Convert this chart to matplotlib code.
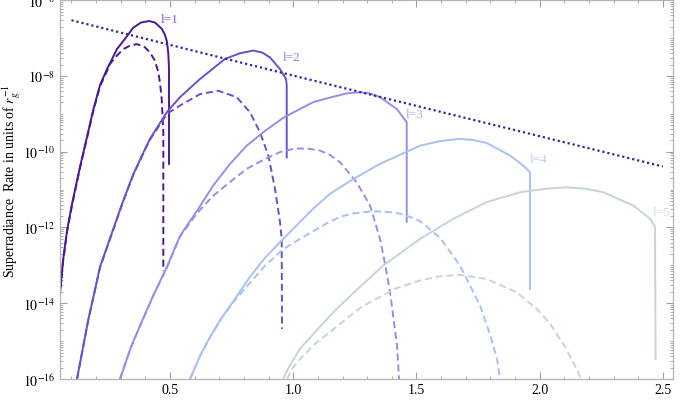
import numpy as np
import matplotlib
matplotlib.use("Agg")
import matplotlib.pyplot as plt
from matplotlib.ticker import FixedLocator, NullFormatter

plt.rcParams['font.family'] = ['Liberation Serif', 'DejaVu Serif']
plt.rcParams['mathtext.fontset'] = 'stix'

# ---- data: x = alpha (mu*M), values = log10(rate in units of 1/r_g) ----
l1_solid_x = [0.052, 0.0657, 0.0820, 0.1023, 0.1347, 0.1631, 0.1875, 0.2159, 0.2443, 0.2849, 0.3255, 0.3498,
              0.3823, 0.4148, 0.4391, 0.4675, 0.4797, 0.4878, 0.4931, 0.4959, 0.4959]
l1_solid_y = [-13.85, -12.88, -12.09, -11.38, -10.40, -9.61, -8.92, -8.24, -7.82, -7.29, -6.95, -6.73,
              -6.59, -6.55, -6.59, -6.76, -6.92, -7.10, -7.42, -7.82, -10.32]
l1_dash_x = [0.052, 0.0657, 0.0820, 0.1023, 0.1347, 0.1631, 0.1875, 0.2159, 0.2443, 0.2565, 0.2849, 0.3105,
             0.3377, 0.3649, 0.3945, 0.4188, 0.4391, 0.4525, 0.4594, 0.4663, 0.4728, 0.4728, 0.4728]
l1_dash_y = [-13.88, -12.91, -12.12, -11.41, -10.43, -9.64, -8.95, -8.27, -7.87, -7.68, -7.46, -7.29,
             -7.20, -7.16, -7.22, -7.38, -7.60, -7.90, -8.19, -8.61, -9.49, -10.32, -13.15]

l2_solid_x = [0.1226, 0.1672, 0.2159, 0.3052, 0.3498, 0.3985, 0.4188, 0.4878, 0.5406, 0.6218, 0.7232, 0.7841,
              0.8381, 0.8734, 0.9058, 0.9464, 0.9708, 0.9736, 0.9736]
l2_solid_y = [-16.0, -14.47, -13.04, -11.38, -10.61, -9.93, -9.66, -8.95, -8.56, -8.08, -7.55, -7.40,
              -7.33, -7.38, -7.51, -7.82, -8.08, -8.25, -10.15]
l2_dash_x = [0.1226, 0.1672, 0.2159, 0.3052, 0.3498, 0.3985, 0.4188, 0.4878, 0.5406, 0.6218, 0.6960, 0.7707,
             0.8247, 0.8653, 0.8990, 0.9261, 0.9464, 0.9533, 0.9545]
l2_dash_y = [-16.0, -14.48, -13.06, -11.40, -10.63, -9.95, -9.68, -9.00, -8.78, -8.48, -8.39, -8.56,
             -8.96, -9.49, -10.10, -10.98, -11.86, -12.30, -14.68]

l3_solid_x = [0.2971, 0.3417, 0.3864, 0.4351, 0.4878, 0.5406, 0.6096, 0.6757, 0.7435, 0.8113, 0.8856, 0.9586,
              1.0276, 1.0816, 1.1494, 1.2171, 1.2711, 1.3100, 1.3523, 1.4201, 1.4606, 1.4606]
l3_solid_y = [-16.0, -15.15, -14.47, -13.75, -13.04, -12.22, -11.56, -10.89, -10.32, -9.84, -9.45, -9.11,
              -8.87, -8.69, -8.57, -8.46, -8.43, -8.46, -8.56, -8.87, -9.22, -11.85]
l3_dash_x = [0.2971, 0.3417, 0.3864, 0.4351, 0.4878, 0.5406, 0.6096, 0.6757, 0.7435, 0.8113, 0.8856, 0.9464,
             0.9900, 1.0166, 1.0600, 1.1088, 1.1500, 1.1907, 1.2577, 1.3117, 1.3523, 1.3726, 1.3929, 1.4213, 1.4294]
l3_dash_y = [-16.0, -15.16, -14.48, -13.76, -13.05, -12.24, -11.62, -11.16, -10.80, -10.45, -10.19, -10.01,
             -9.94, -9.915, -9.92, -9.97, -10.09, -10.28, -10.81, -11.42, -12.30, -12.96, -13.70, -15.12, -16.0]

l4_solid_x = [0.5812, 0.6218, 0.6623, 0.7070, 0.7557, 0.8247, 0.8856, 0.9598, 1.0816, 1.1494, 1.2439, 1.3523,
              1.5146, 1.5958, 1.6769, 1.7300, 1.7853, 1.8799, 1.9339, 1.9610, 1.9610]
l4_solid_y = [-16.0, -15.39, -14.89, -14.41, -13.96, -13.30, -12.80, -12.30, -11.50, -11.11, -10.72, -10.32,
              -9.84, -9.72, -9.66, -9.69, -9.77, -10.10, -10.37, -10.54, -13.62]
l4_dash_x = [0.5812, 0.6218, 0.6623, 0.7070, 0.7557, 0.8247, 0.8856, 0.9598, 1.0276, 1.1494, 1.2000, 1.2427,
             1.3000, 1.3523, 1.4000, 1.4359, 1.4862, 1.5146, 1.5958, 1.6769, 1.7581, 1.7987, 1.8271, 1.8393]
l4_dash_y = [-16.0, -15.40, -14.90, -14.42, -13.98, -13.46, -13.01, -12.57, -12.30, -11.84, -11.70, -11.63,
             -11.585, -11.575, -11.60, -11.64, -11.75, -11.83, -12.27, -13.01, -14.06, -14.83, -15.47, -16.0]

l5_solid_x = [0.9586, 0.9870, 1.0276, 1.0885, 1.1494, 1.2305, 1.3644, 1.5146, 1.6498, 1.7853, 1.9205, 2.0219,
              2.1100, 2.1900, 2.2585, 2.3803, 2.4481, 2.4683, 2.4704]
l5_solid_y = [-16.0, -15.63, -15.20, -14.76, -14.33, -13.81, -13.01, -12.30, -11.77, -11.33, -11.07, -10.98,
              -10.94, -10.98, -11.07, -11.42, -11.77, -11.99, -15.47]
l5_dash_x = [0.9748, 0.9992, 1.0276, 1.0885, 1.1494, 1.2305, 1.2833, 1.4213, 1.5146, 1.5958, 1.6769, 1.7853,
             1.9071, 1.9882, 2.0422, 2.1031, 2.1518, 2.1721]
l5_dash_y = [-16.0, -15.70, -15.47, -15.07, -14.76, -14.33, -14.07, -13.60, -13.40, -13.29, -13.25, -13.36,
             -13.71, -14.15, -14.54, -15.15, -15.76, -16.05]

bound_x = [0.10, 0.5, 1.0, 1.5, 2.0, 2.5]
bound_y = [-6.53, -7.18, -7.99, -8.79, -9.59, -10.39]

labels = ["l=1", "l=2", "l=3", "l=4", "l=5"]
label_x = [0.500, 0.995, 1.494, 1.994, 2.493]
label_y = [-6.50, -7.50, -9.01, -10.19, -11.59]

line_colors = ["#4a1a94", "#6e4fc6", "#9590e6", "#a9c1ee", "#c6d4d8"]
label_colors = ["#8a5cd0", "#8c84dc", "#aaa6f0", "#bccff4", "#d5e0e4"]

solids = [(l1_solid_x, l1_solid_y), (l2_solid_x, l2_solid_y), (l3_solid_x, l3_solid_y),
          (l4_solid_x, l4_solid_y), (l5_solid_x, l5_solid_y)]
dashes = [(l1_dash_x, l1_dash_y), (l2_dash_x, l2_dash_y), (l3_dash_x, l3_dash_y),
          (l4_dash_x, l4_dash_y), (l5_dash_x, l5_dash_y)]

fig = plt.figure(figsize=(6.98, 4.02), dpi=100)
ax = fig.add_axes([59.5/698, 1-380/402, (672.7-59.5)/698, (380-1.2)/402])

for i in range(5):
    sx, sy = solids[i]
    dx, dy = dashes[i]
    ax.plot(sx, 10.0**np.array(sy), color=line_colors[i], lw=1.4, solid_joinstyle='round')
    ax.plot(dx, 10.0**np.array(dy), color=line_colors[i], lw=1.4, ls=(0, (3.6, 2.0)))
    ax.text(label_x[i], 10.0**label_y[i], labels[i], color=label_colors[i], fontsize=9.5,
            ha='center', va='center')

ax.plot(bound_x, 10.0**np.array(bound_y), color="#2d2d96", lw=1.6, ls=(0, (1.0, 1.3)))

ax.set_yscale('log')
ax.set_xlim(0.0515, 2.54)
ax.set_ylim(1e-16, 1e-6)

ax.xaxis.set_major_locator(FixedLocator([0.5, 1.0, 1.5, 2.0, 2.5]))
ax.xaxis.set_minor_locator(FixedLocator([v/10 for v in range(1, 26) if v % 5 != 0]))
ax.set_xticklabels(["0.5", "1.0", "1.5", "2.0", "2.5"])

ymaj = [10.0**k for k in range(-16, -5, 2)]
ax.yaxis.set_major_locator(FixedLocator(ymaj))
ymin = []
for k in range(-16, -6):
    for s in range(1, 10):
        if s == 1 and k % 2 == 0:
            continue
        ymin.append(s * 10.0**k)
ax.yaxis.set_minor_locator(FixedLocator(ymin))
ax.yaxis.set_minor_formatter(NullFormatter())
ax.set_yticklabels([r"$10^{%d}$" % k for k in range(-16, -5, 2)])

for s in ax.spines.values():
    s.set_color("#b4b4b4")
    s.set_linewidth(0.9)
ax.tick_params(which='both', direction='in', top=True, right=True, color="#a0a0a0", labelsize=10)
ax.tick_params(which='major', length=5, width=0.8, pad=3)
ax.tick_params(which='minor', length=2.5, width=0.6)

fig.text(11/698, 1-181/402, "Superradiance  Rate in units of $r_g^{-1}$", rotation=90,
         ha='center', va='center', fontsize=10)

fig.savefig("out.png", dpi=100)
